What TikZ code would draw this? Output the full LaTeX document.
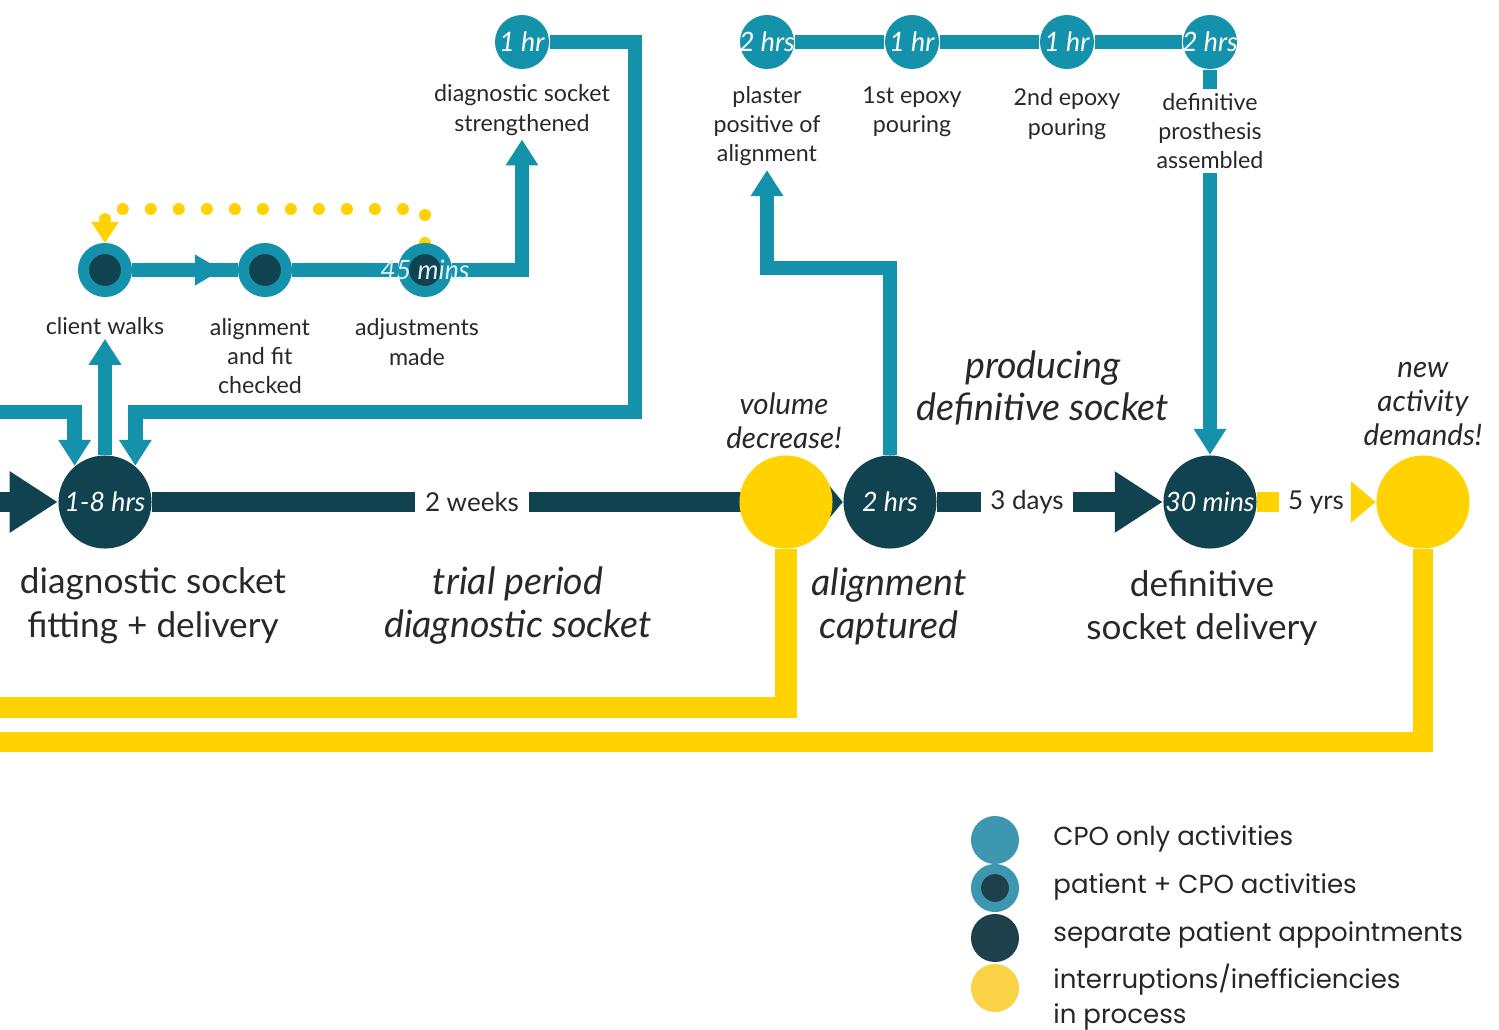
\documentclass[tikz,border=0pt]{standalone}
\usepackage{fontspec}
\setmainfont{Lato}
\newfontfamily\legendfont{Poppins}
\usetikzlibrary{arrows.meta, positioning, backgrounds, calc}
\definecolor{cpoteal}{RGB}{20,146,172}
\definecolor{patientdark}{RGB}{16,66,80}
\definecolor{delayyellow}{RGB}{255,210,0}
\definecolor{legteal}{RGB}{62,151,176}
\definecolor{legdark}{RGB}{30,64,74}
\definecolor{legyellow}{RGB}{250,210,70}
\definecolor{labelgray}{RGB}{40,40,40}

\tikzset{
  apptnode/.style={circle, fill=patientdark, minimum size=0.93cm, inner sep=0pt},
  delaynode/.style={circle, fill=delayyellow, minimum size=0.93cm, inner sep=0pt},
  cponode/.style={circle, fill=cpoteal, minimum size=0.54cm, inner sep=0pt},
  bothnode/.style={circle, fill=patientdark, draw=cpoteal, line width=0.11cm, minimum size=0.43cm, inner sep=0pt},
  timetxt/.style={font=\fontsize{7.6}{8}\selectfont\itshape, text=white},
  smalllbl/.style={font=\fontsize{6.6}{8.3}\selectfont, text=labelgray, align=center, inner sep=1pt},
  notelbl/.style={font=\fontsize{8.4}{9.7}\selectfont\itshape, text=labelgray, align=center, inner sep=1pt},
  biglbl/.style={font=\fontsize{10}{12.4}\selectfont, text=labelgray, align=center},
  bigital/.style={biglbl, font=\fontsize{10.7}{12.2}\selectfont\itshape},
  gaplbl/.style={font=\fontsize{7.4}{9}\selectfont, text=labelgray, inner sep=0.09cm},
  darkbar/.style={draw=patientdark, line width=0.2cm},
  tealbar/.style={draw=cpoteal, line width=0.145cm},
  yellowbar/.style={draw=delayyellow, line width=0.2cm},
  dotline/.style={draw=delayyellow, line width=0.12cm, line cap=round, dash pattern=on 0pt off 0.28cm},
  legtext/.style={font=\legendfont\fontsize{7.4}{10}\selectfont, text=black!85, anchor=west, align=left},
  bigtip/.tip={Triangle[length=0.48cm, width=0.58cm]},
  tealtip/.tip={Triangle[length=0.26cm, width=0.31cm]},
}

\begin{document}
\begin{tikzpicture}[x=0.01cm, y=-0.01cm]
    \useasboundingbox (0,0) rectangle (1499,1030);

    % Main row
    \node[apptnode, label={[timetxt]center:1-8 hrs}] (fit) at (105,502) {};
    \node[gaplbl] (weeks) at (472,502) {2 weeks};
    \node[delaynode] (volume) at (786,502) {};
    \node[apptnode, label={[timetxt]center:2 hrs}] (capture) at (890,502) {};
    \node[gaplbl] (days) at (1027,502) {3 days};
    \node[apptnode, label={[timetxt]center:30 mins}] (delivery) at (1210,502) {};
    \node[gaplbl, inner sep=0.08cm] (years) at (1316,502) {5 yrs};
    \node[delaynode] (demands) at (1423,502) {};

    % Fitting sub-steps
    \node[bothnode] (walks) at (105,270) {};
    \node[bothnode] (check) at (265,270) {};
    \node[bothnode, label={[timetxt, text=cpoteal!15]center:45 mins}] (adjust) at (425,270) {};
    \node[cponode, label={[timetxt]center:1 hr}] (strength) at (522,42) {};

    % Production chain
    \foreach \n/\x/\t in {plaster/767/2 hrs, epoxyA/912/1 hr, epoxyB/1067/1 hr, assemble/1210/2 hrs}
        \node[cponode, label={[timetxt]center:\t}] (\n) at (\x,42) {};

    % Labels
    \node[smalllbl] (walkslbl) at (105,326) {client walks};
    \node[smalllbl] at (260,356) {alignment\\and fit\\checked};
    \node[smalllbl] at (417,342) {adjustments\\made};
    \node[smalllbl] (strengthlbl) at (522,110) {diagnostic socket\\strengthened};
    \node[smalllbl] (plasterlbl) at (767,126) {plaster\\positive of\\alignment};
    \node[smalllbl] at (912,112) {1st epoxy\\pouring};
    \node[smalllbl] at (1067,114) {2nd epoxy\\pouring};
    \node[smalllbl] (assemblelbl) at (1210,131) {definitive\\prosthesis\\assembled};
    \node[notelbl] at (784,421) {volume\\decrease!};
    \node[notelbl] at (1423,404) {new\\activity\\demands!};
    \node[bigital] at (1043,388) {producing\\definitive socket};
    \node[biglbl] at (153,606) {diagnostic socket\\fitting + delivery};
    \node[bigital] at (518,606) {trial period\\diagnostic socket};
    \node[bigital] at (889,606) {alignment\\captured};
    \node[biglbl] at (1202,608) {definitive\\socket delivery};

    % Free ends and bends
    \coordinate (enterMain) at (0,502);
    \coordinate (enterLoop) at (0,412);
    \coordinate (loopCorner) at (635,412);
    \coordinate (dotCorner) at (105,209);
    \coordinate (plasterBend) at (767,268);
    \coordinate (returnA) at (0,707);
    \coordinate (returnB) at (0,742);

    \begin{pgfonlayer}{background}
        % Main row connectors
        \draw[darkbar, -{bigtip}] (enterMain) -- (fit.west);
        \draw[darkbar] (fit.east) -- (weeks.west);
        \draw[darkbar, -{Triangle[length=0.22cm, width=0.52cm]}] (weeks.east) -- (capture.west);
        \draw[darkbar] (capture.east) -- (days.west);
        \draw[darkbar, -{bigtip}] (days.east) -- (delivery.west);
        \draw[yellowbar] (delivery.east) -- (years.west);
        \draw[yellowbar, -{Triangle[length=0.25cm, width=0.4cm]}] (years.east) -- (demands.west);

        % Fitting loop
        \draw[tealbar, -{tealtip}] (enterLoop) -| (fit.130);
        \draw[tealbar, -{tealtip}] (fit.north) -- (walkslbl.south);
        \draw[tealbar] (walks) -- (check);
        \draw[tealbar, -{Triangle[length=0.27cm, width=0.29cm]}, shorten >=0.16cm] (walks) -- (check);
        \draw[tealbar] (check) -- (adjust);
        \draw[tealbar, -{tealtip}] (adjust.east) -| (strengthlbl.south);
        \draw[tealbar, -{tealtip}] (strength.east) -| (loopCorner) -| (fit.50);
        \draw[dotline, -{Triangle[length=0.21cm, width=0.26cm]}] (adjust.north) |- (dotCorner) -- (walks.north);

        % Production chain
        \draw[tealbar] (plaster) -- (epoxyA) -- (epoxyB) -- (assemble);
        \draw[tealbar] (assemble.south) -- (assemblelbl.north);
        \draw[tealbar, -{tealtip}] (assemblelbl.south) -- (delivery.north);
        \draw[tealbar, -{tealtip}] (capture.north) |- (plasterBend) -- (plasterlbl.south);

        % Interruptions
        \draw[yellowbar, line width=0.21cm] (volume.south) |- (returnA);
        \draw[yellowbar] (demands.south) |- (returnB);
    \end{pgfonlayer}

    % Legend
    \node[circle, fill=legteal, minimum size=0.48cm, inner sep=0pt] (keyCpo) at (995,840) {};
    \node[circle, fill=legdark, draw=legteal, line width=0.1cm, minimum size=0.38cm, inner sep=0pt] (keyBoth) at (995,888) {};
    \node[circle, fill=legdark, minimum size=0.48cm, inner sep=0pt] (keyAppt) at (995,938) {};
    \node[circle, fill=legyellow, minimum size=0.48cm, inner sep=0pt] (keyDelay) at (995,988) {};
    \node[legtext] at (1041,839) {CPO only activities};
    \node[legtext] at (1041,887) {patient + CPO activities};
    \node[legtext] at (1041,935) {separate patient appointments};
    \node[legtext] at (1041,997) {interruptions/inefficiencies\\in process};
\end{tikzpicture}
\end{document}
